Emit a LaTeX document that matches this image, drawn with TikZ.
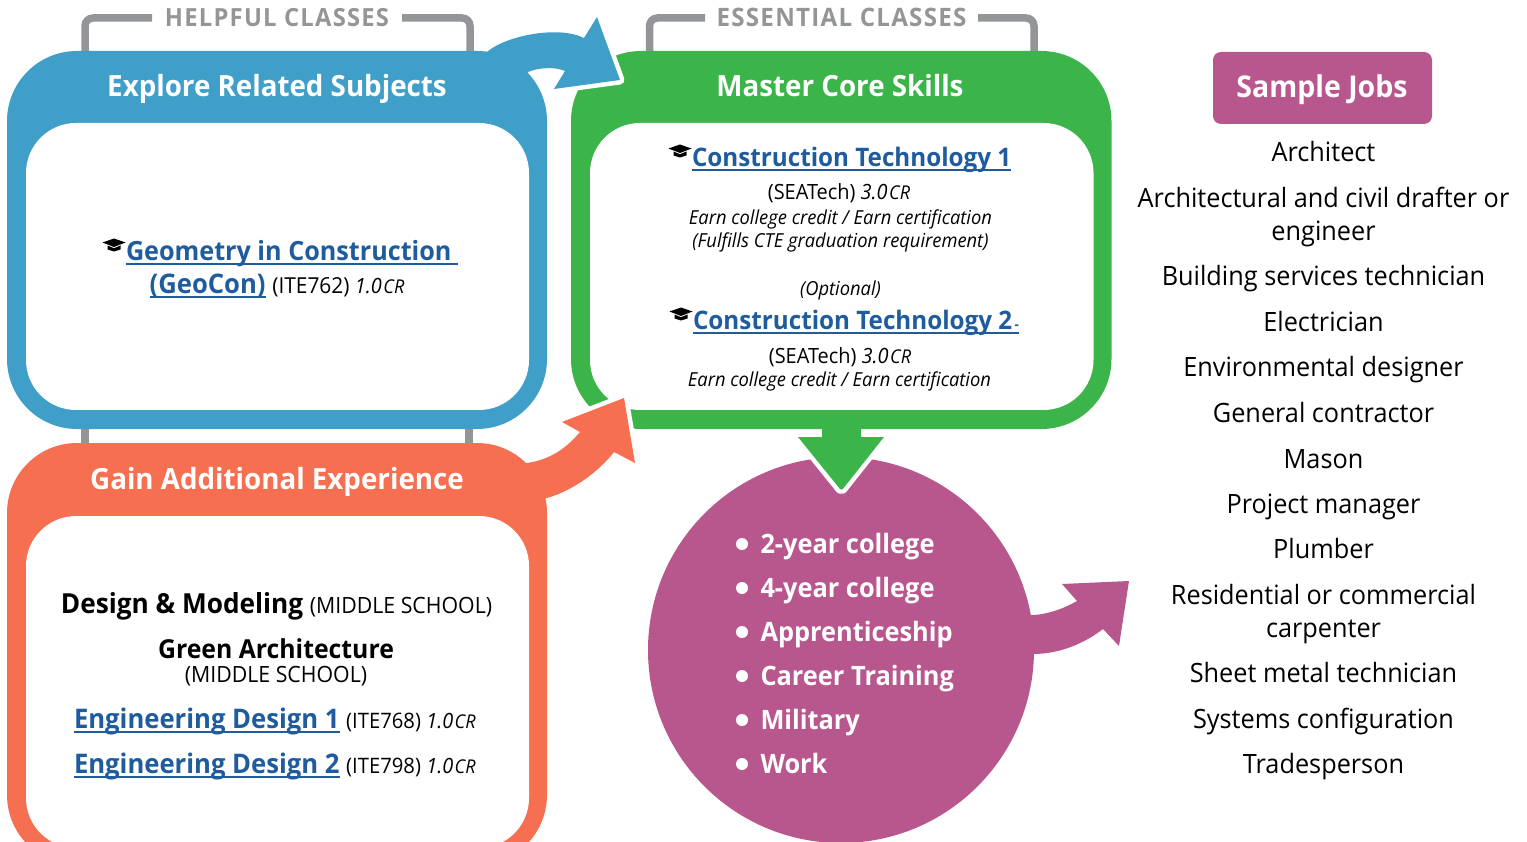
\documentclass[tikz,border=0pt]{standalone}
\usepackage{fontspec}
\setmainfont[FakeStretch=0.95]{Open Sans}
\newfontfamily\spacedfont[LetterSpace=5,FakeStretch=0.95]{Open Sans}
\newcommand\fsz[1]{\fontsize{#1}{#1}\selectfont}
\definecolor{cblue}{HTML}{3F9FC8}
\definecolor{cgreen}{HTML}{3BB54A}
\definecolor{corange}{HTML}{F56F50}
\definecolor{cpurple}{HTML}{B8578E}
\definecolor{cgrey}{HTML}{939598}
\definecolor{clink}{HTML}{1F5C9E}
\newcommand\lnk[1]{{\color{clink}\bfseries\setbox0\hbox{#1}\rlap{\rule[-4.5pt]{\wd0}{2pt}}\box0}}
\newcommand\cred[2]{{\itshape\fsz{#1}#2\kern1.5pt\fsz{19}CR}}
\tikzset{
  txt/.style={anchor=base,inner sep=0pt,outer sep=0pt,text=black},
  ltxt/.style={anchor=base west,inner sep=0pt,outer sep=0pt},
  head/.style={txt,text=white,font=\bfseries\fsz{29.2}},
  tag/.style={txt,text=cgrey,font=\spacedfont\bfseries\fsz{25}},
  linkline/.style={txt,font=\fsz{27}},
  detail/.style={txt,font=\fsz{20}},
  note/.style={txt,font=\itshape\fsz{19.3}},
  job/.style={txt,font=\fsz{26.6}},
  opt/.style={ltxt,text=white,font=\bfseries\fsz{26.7}},
  bullet/.style={circle,fill=white,inner sep=0pt,minimum size=12pt},
  bracket/.style={draw=cgrey,line width=7.5pt,rounded corners=8pt},
  gap/.style={preaction={draw=white,line width=9pt,line join=round}},
  gradcap/.pic={\fill[black] (-11.5,-2.5)--(0,-6.5)--(11.5,-2.5)--(0,2)--cycle;
    \fill[black] (-6.5,0.5)--(0,3.2)--(6.5,0.5)--(6.5,4.5)--(0,6.5)--(-6.5,4.5)--cycle;}
}
\begin{document}
\begin{tikzpicture}[x=1pt,y=-1pt]
\clip (0,0) rectangle (1527,842);
% grey brackets
\draw[bracket] (152,18)--(85,18)--(85,60);
\draw[bracket] (402,18)--(470,18)--(470,60);
\draw[bracket] (705,18)--(649.5,18)--(649.5,60);
\draw[bracket] (978,18)--(1034,18)--(1034,60);
\draw[draw=cgrey,line width=7.5pt] (85,420)--(85,450);
\draw[draw=cgrey,line width=7.5pt] (469,420)--(469,450);
% circle and its arrows
\fill[cpurple] (1000,620)--(1031,615) .. controls (1047,615) and (1065,608) .. (1077,601)
  --(1062,584)--(1129,581)--(1119,646)--(1103,629)
  .. controls (1085,643) and (1060,654) .. (1033,654)--(1000,660)--cycle;
\node[circle,fill=cpurple,minimum size=386pt,inner sep=0pt] (ball) at (841,650) {};
\fill[gap,cgreen] (822,415)--(822,437)--(798,437)--(840,489) arc[start angle=225,end angle=315,radius=2pt]--(884,437)--(861,437)--(861,415)--cycle;
% green box
\fill[cgreen,rounded corners=70pt] (571,51) rectangle (1111.5,429);
\fill[white,rounded corners=50pt] (590,123) rectangle (1093.5,410);
% blue arrow, box
\fill[gap,cblue] (470,60)--(487,52) .. controls (505,36) and (558,25) .. (584,38)
  --(597,17)--(620,80)--(554,89)--(565,71) .. controls (556,67) and (540,67) .. (528,72)--(500,110)--cycle;
\fill[cblue,rounded corners=70pt] (7,51) rectangle (547,429);
\fill[white,rounded corners=50pt] (26,123) rectangle (529,410);
% orange arrow, box
\fill[gap,corange] (500,470)--(527,463) .. controls (548,460) and (565,450) .. (580,432)
  --(562,422)--(624,398)--(635,463)--(614,452) .. controls (600,470) and (575,490) .. (547,498)--(500,510)--cycle;
\fill[corange,rounded corners=70pt] (7,443) rectangle (547,865);
\fill[white,rounded corners=50pt] (26,516) rectangle (529,848);
% sample jobs
\fill[cpurple,rounded corners=8pt] (1213,52) rectangle (1432,124);
% tags and heads
\node[tag] (t1) at (277,27) {HELPFUL CLASSES};
\node[tag,font=\spacedfont\bfseries\fsz{25.4}] (t2) at (841.5,27) {ESSENTIAL CLASSES};
\node[head] (h1) at (277,97) {Explore Related Subjects};
\node[head] (h2) at (840,97) {Master Core Skills};
\node[head] (h3) at (277,489.5) {Gain Additional Experience};
\node[head,font=\bfseries\fsz{30}] (h4) at (1322,98) {Sample Jobs};
% blue content
\pic at (114,245) {gradcap};
\node[linkline,anchor=base west,font=\fsz{26.5}] (g1) at (126,260.5) {\lnk{Geometry in Construction\ }};
\node[linkline] (g2) at (277,294) {\lnk{(GeoCon)} {\fsz{22}(ITE762) \cred{21}{1.0}}};
% green content
\pic at (680,151) {gradcap};
\node[linkline,anchor=base west,font=\fsz{25.5}] (c1) at (692,166.5) {\lnk{Construction Technology 1}};
\node[detail,font=\fsz{21}] (c2) at (839,200) {(SEATech) \cred{21}{3.0}};
\node[note] (c3) at (840.5,224.5) {Earn college credit / Earn certification};
\node[note] (c4) at (840.5,248) {(Fulfills CTE graduation requirement)};
\node[note] (c5) at (840.5,296) {(Optional)};
\pic at (681,314) {gradcap};
\node[linkline,anchor=base west,font=\fsz{25.5}] (c6) at (693,330) {\lnk{Construction Technology 2{\fsz{14}\,-}}};
\node[detail,font=\fsz{21}] (c7) at (840,363) {(SEATech) \cred{21}{3.0}};
\node[note] (c8) at (839.5,387) {Earn college credit / Earn certification};
% orange content
\node[linkline] (o1) at (276.5,613.5) {{\bfseries\fsz{27.6}Design \& Modeling} {\fsz{22.4}(MIDDLE SCHOOL)}};
\node[linkline,font=\bfseries\fsz{26.1}] (o2) at (276,658) {Green Architecture};
\node[detail,font=\fsz{22.4}] (o3) at (276,682) {(MIDDLE SCHOOL)};
\node[linkline,anchor=base west] (o4) at (74,728) {\lnk{Engineering Design 1} {\fsz{21.3}(ITE768) \cred{21}{1.0}}};
\node[linkline,anchor=base west] (o5) at (74,773) {\lnk{Engineering Design 2} {\fsz{21.3}(ITE798) \cred{21}{1.0}}};
% options
\foreach \n/\y/\t in {a/553/2-year college,b/597/4-year college,c/641/Apprenticeship,d/685/Career Training,e/729/Military,f/773/Work}{
  \node[bullet] (d\n) at (742,\y-9) {};
  \node[opt] (p\n) at (760.5,\y) {\t};
}
% jobs
\node[job] (j1) at (1323.5,162) {Architect};
\node[job] (j2) at (1323.5,208) {Architectural and civil drafter or};
\node[job] (j3) at (1323.5,241) {engineer};
\node[job] (j4) at (1323.5,286) {Building services technician};
\node[job] (j5) at (1323.5,332) {Electrician};
\node[job] (j6) at (1323.5,377) {Environmental designer};
\node[job] (j7) at (1323.5,422) {General contractor};
\node[job] (j8) at (1323.5,468) {Mason};
\node[job] (j9) at (1323.5,513) {Project manager};
\node[job] (j10) at (1323.5,558) {Plumber};
\node[job] (j11) at (1323.5,604) {Residential or commercial};
\node[job] (j12) at (1323.5,637) {carpenter};
\node[job] (j13) at (1323.5,682) {Sheet metal technician};
\node[job] (j14) at (1323.5,728) {Systems configuration};
\node[job] (j15) at (1323.5,773) {Tradesperson};
\end{tikzpicture}
\end{document}
